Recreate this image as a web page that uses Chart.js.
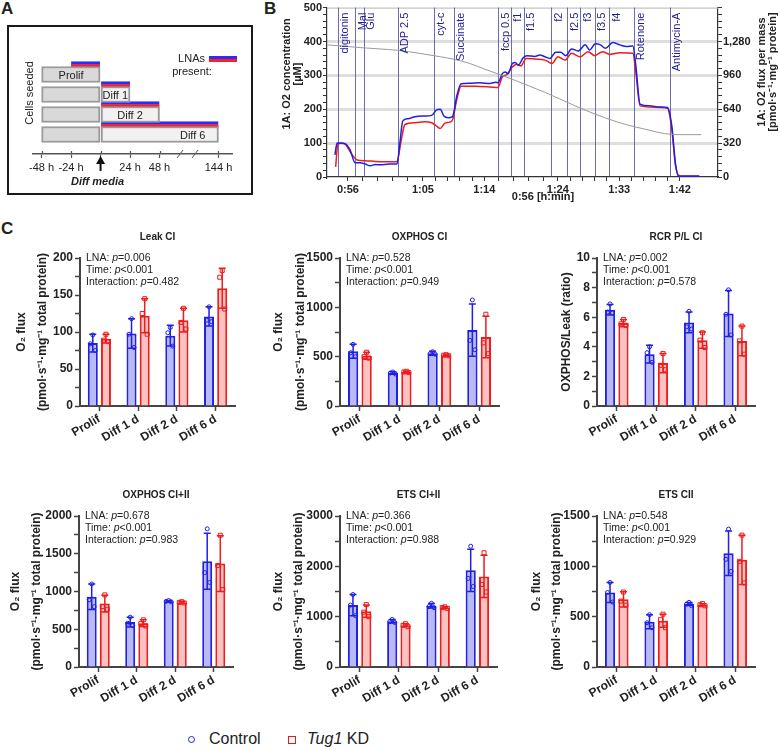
<!DOCTYPE html>
<html>
<head>
<meta charset="utf-8">
<script src="https://cdn.jsdelivr.net/npm/chart.js@4.4.1/dist/chart.umd.min.js"></script>
<style>
  body { margin: 0; background: #fff; width: 780px; height: 750px; position: relative; overflow: hidden;
         font-family: "Liberation Sans", Arial, sans-serif; color: #222; }
  canvas { position: absolute; }
  .panel { position: absolute; font-weight: bold; font-size: 17px; }
  .legend { position: absolute; top: 730px; font-size: 16px; }
</style>
</head>
<body>
<div class="panel" style="left:1px;top:-1px">A</div>
<div class="panel" style="left:264px;top:-1px">B</div>
<div class="panel" style="left:1px;top:219px">C</div>
<div style="position:absolute;left:7px;top:25px;width:242px;height:166px;border:2px solid #1a1a1a"></div>

<canvas id="chartA" width="255" height="200" style="left:0;top:0"></canvas>
<canvas id="chartB" width="525" height="205" style="left:255px;top:0"></canvas>
<canvas id="c1" width="250" height="231" style="left:0;top:220px"></canvas>
<canvas id="c2" width="255" height="231" style="left:262px;top:220px"></canvas>
<canvas id="c3" width="260" height="231" style="left:520px;top:220px"></canvas>
<canvas id="c4" width="250" height="234" style="left:0;top:478px"></canvas>
<canvas id="c5" width="255" height="234" style="left:262px;top:478px"></canvas>
<canvas id="c6" width="260" height="234" style="left:520px;top:478px"></canvas>

<div class="legend" style="left:188px">
  <span style="display:inline-block;width:5px;height:5px;border:1.5px solid #1f1fe6;border-radius:50%;vertical-align:middle;margin-right:14px"></span>Control
</div>
<div class="legend" style="left:288px">
  <span style="display:inline-block;width:6px;height:6px;border:1.5px solid #e61a1a;vertical-align:middle;margin-right:11px"></span><i>Tug1</i> KD
</div>

<script>
// ---------- panel A: experiment timeline ----------
const boxNames = ["Prolif", "Diff 1", "Diff 2", "Diff 6"];
const boxRows = [2, 4, 6, 8];
const seedStart = [-48, -48, -48, -48];
const diffEnd = [0, 24, 48, 96];          // 144 h drawn at 96 on the broken axis
const lnaRows = [1, 3, 5, 7];
const lnaStart = [-24, 0, 0, 0];
const lnaEnd = [0, 24, 48, 96];
const boxLabelAt = [-24, 12, 24, 75];
const hourTicks = [-48, -24, 0, 24, 48, 96];
const hourLabels = ["-48 h", "-24 h", "", "24 h", "48 h", "144 h"];

// ---------- panel B: oxygraph trace ----------
const ctrlTime = [54.2, 54.5, 55.6, 56.3, 57.0, 57.7, 58.4, 59.1, 59.8, 60.4, 61.8, 62.8, 63.2, 63.6, 64.3, 65.3,
  66.7, 67.6, 68.3, 68.8, 69.3, 69.9, 70.5, 71.1, 71.7, 72.9, 74.3, 75.7, 76.5, 76.8, 77.4, 77.8, 78.2, 78.8,
  79.2, 79.6, 80.3, 80.8, 81.9, 82.6, 83.3, 84.0, 84.8, 85.5, 86.2, 87.0, 87.9, 88.9, 89.5, 90.3, 91.0, 91.7,
  92.7, 93.7, 94.6, 95.5, 95.9, 96.5, 97.8, 99.2, 100.3, 100.9, 101.4, 101.8, 104.7];
const ctrlFlux = [208, 320, 314, 256, 134, 134, 122, 106, 118, 115, 122, 122, 320, 528, 550, 570,
  576, 582, 634, 640, 576, 560, 570, 768, 880, 886, 890, 883, 896, 890, 976, 992, 976, 1072,
  1082, 1056, 1126, 1146, 1139, 1152, 1136, 1120, 1178, 1178, 1146, 1210, 1190, 1248, 1200, 1258, 1248, 1216,
  1270, 1248, 1232, 1238, 1056, 688, 672, 662, 656, 480, 128, 10, 6];
const kdTime = [54.3, 54.6, 55.2, 55.7, 56.6, 57.3, 58.4, 59.8, 61.1, 62.8, 63.4, 63.9, 65.3, 66.7, 67.6, 68.3,
  68.8, 69.4, 70.1, 70.5, 71.1, 71.7, 73.6, 75.7, 76.8, 77.4, 78.0, 78.8, 79.4, 80.0, 80.7, 81.9, 83.3, 84.3,
  85.1, 86.1, 87.0, 88.2, 89.3, 90.2, 91.3, 92.3, 93.7, 95.5, 95.9, 96.5, 98.5, 100.3, 100.9, 101.4, 102.0, 104.7];
const kdFlux = [96, 304, 320, 304, 208, 160, 154, 147, 144, 147, 352, 496, 512, 522, 512, 480,
  458, 506, 518, 538, 736, 858, 858, 851, 845, 944, 966, 1040, 1066, 1050, 1120, 1114, 1104, 1072,
  1136, 1104, 1168, 1136, 1184, 1146, 1184, 1158, 1174, 1168, 992, 672, 659, 650, 448, 112, 10, 10];
const o2Time = [53.1, 54.9, 57.7, 60.4, 62.9, 65.9, 68.8, 70.8, 72.9, 75.0, 77.1, 79.2, 81.2, 83.3, 85.4, 87.5,
  89.5, 91.6, 93.7, 95.8, 97.8, 99.9, 102.0, 105.0];
const o2Conc = [390, 387, 382, 378, 374, 365, 355, 347, 335, 318, 302, 285, 268, 250, 230, 210,
  192, 175, 160, 148, 138, 128, 125, 125];
const eventNames = ["digitonin", "Mal", "Glu", "ADP 2.5", "cyt-c", "Succinate", "fccp 0.5", "f1", "f1.5", "f2",
  "f2.5", "f3", "f3.5", "f4", "Rotenone", "Antimycin-A"];
const eventTime = [54.6, 57.0, 58.2, 62.9, 67.9, 70.7, 76.8, 78.6, 80.4, 84.2, 86.4, 88.2, 90.2, 92.2, 95.6, 100.6];
const timeTickAt = [56, 66.4, 74.9, 85.1, 93.6, 102];
const timeTickLabels = ["0:56", "1:05", "1:14", "1:24", "1:33", "1:42"];

// ---------- panel C: respirometry bars ----------
const stages = ["Prolif", "Diff 1 d", "Diff 2 d", "Diff 6 d"];

const leakCtrlMean = [85, 98, 95, 121], leakCtrlSd = [12, 20, 14, 13];
const leakKdMean = [91, 122, 116, 159], leakKdSd = [6, 23, 16, 27];
const leakCtrlPts = [[96, 84, 75], [118, 97, 79], [106, 99, 81], [134, 116, 114]];
const leakKdPts = [[97, 89, 87], [145, 125, 97], [132, 113, 104], [183, 174, 131]];

const oxCtrlMean = [555, 335, 535, 770], oxCtrlSd = [70, 12, 20, 265];
const oxKdMean = [510, 345, 515, 700], oxKdSd = [35, 8, 8, 210];
const oxCtrlPts = [[625, 540, 500], [345, 335, 325], [550, 530, 525], [1075, 665, 570]];
const oxKdPts = [[545, 500, 485], [352, 345, 338], [520, 515, 510], [930, 640, 530]];

const rcrCtrlMean = [6.5, 3.5, 5.65, 6.25], rcrCtrlSd = [0.35, 0.6, 0.7, 1.55];
const rcrKdMean = [5.6, 2.9, 4.45, 4.4], rcrKdSd = [0.25, 0.65, 0.55, 1.0];
const rcrCtrlPts = [[6.9, 6.35, 6.3], [4.0, 3.6, 2.95], [6.4, 5.35, 5.2], [7.85, 6.2, 4.8]];
const rcrKdPts = [[5.85, 5.55, 5.45], [3.55, 2.75, 2.45], [4.95, 4.45, 3.95], [5.4, 4.4, 3.5]];

const ox2CtrlMean = [930, 595, 870, 1400], ox2CtrlSd = [170, 65, 12, 370];
const ox2KdMean = [840, 580, 855, 1370], ox2KdSd = [110, 45, 12, 370];
const ox2CtrlPts = [[1100, 890, 800], [660, 580, 550], [880, 870, 862], [1830, 1250, 1120]];
const ox2KdPts = [[955, 800, 765], [625, 575, 545], [865, 855, 848], [1745, 1345, 1025]];

const etsCtrlMean = [1230, 910, 1215, 1920], etsCtrlSd = [210, 35, 45, 420];
const etsKdMean = [1110, 830, 1180, 1800], etsKdSd = [120, 30, 15, 420];
const etsCtrlPts = [[1440, 1230, 1020], [945, 900, 885], [1265, 1200, 1180], [2400, 1760, 1600]];
const etsKdPts = [[1240, 1090, 1000], [860, 830, 800], [1195, 1180, 1165], [2270, 1640, 1490]];

const cii_CtrlMean = [740, 450, 625, 1130], cii_CtrlSd = [100, 70, 15, 220];
const cii_KdMean = [672, 460, 618, 1065], cii_KdSd = [75, 65, 10, 245];
const cii_CtrlPts = [[840, 740, 645], [520, 440, 390], [642, 625, 610], [1370, 1070, 950]];
const cii_KdPts = [[745, 655, 615], [525, 470, 390], [630, 618, 608], [1310, 1050, 835]];

const pLNA = ["0.006", "0.528", "0.002", "0.678", "0.366", "0.548"];
const pTime = ["<0.001", "<0.001", "<0.001", "<0.001", "<0.001", "<0.001"];
const pInter = ["0.482", "0.949", "0.578", "0.983", "0.988", "0.929"];

const FONT = '"Liberation Sans", Arial, sans-serif';
const BLUE = "#1f1fe6", RED = "#ee1c1c", AXIS = "#444";
Chart.defaults.font.family = FONT;
Chart.defaults.color = "#222";

function rotText(ctx, text, x, y, align) {
  ctx.save();
  ctx.translate(x, y);
  ctx.rotate(-Math.PI / 2);
  ctx.textAlign = align || "center";
  ctx.fillText(text, 0, 0);
  ctx.restore();
}

// ---------- panel A ----------
new Chart(document.getElementById("chartA"), {
  type: "bar",
  data: {
    datasets: [
      {
        data: boxRows.map((r, i) => ({ y: r, x: [seedStart[i], 0] })),
        backgroundColor: "#d9d9d9", borderColor: "#9a9a9a", borderWidth: 2, borderSkipped: false, barThickness: 16
      },
      {
        data: boxRows.slice(1).map((r, i) => ({ y: r, x: [0, diffEnd[i + 1]] })),
        backgroundColor: "#f1f1f1", borderColor: "#9a9a9a", borderWidth: 2, borderSkipped: false, barThickness: 16
      },
      {
        data: lnaRows.map((r, i) => ({ y: r, x: [lnaStart[i], lnaEnd[i]] })),
        backgroundColor: "#ff1f1f", borderColor: "#2b2bff",
        borderWidth: { top: 3, bottom: 0, left: 0, right: 0 }, borderSkipped: false, barThickness: 6
      }
    ]
  },
  options: {
    indexAxis: "y", responsive: false, animation: false,
    datasets: { bar: { grouped: false } },
    layout: { padding: { left: 33, right: 23, top: 49, bottom: 0 } },
    plugins: { legend: { display: false }, tooltip: { enabled: false } },
    scales: {
      y: { type: "linear", reverse: true, min: 0.5, max: 8.9, display: false },
      x: {
        type: "linear", min: -55, max: 107,
        afterBuildTicks(s) { s.ticks = hourTicks.map(v => ({ value: v })); },
        afterFit(s) { s.height = 46; },
        ticks: { autoSkip: false, maxRotation: 0, padding: 3, font: { size: 11 },
                 callback: v => hourLabels[hourTicks.indexOf(v)] },
        grid: { drawOnChartArea: false, tickLength: 4, color: "#555", tickWidth: 1.2 },
        border: { color: "#555", width: 1.5 }
      }
    }
  },
  plugins: [{
    id: "timelineText",
    afterDatasetsDraw(chart) {
      const { ctx, scales: { x, y }, chartArea } = chart;
      ctx.save();
      ctx.fillStyle = "#222";
      ctx.font = "11px " + FONT;
      ctx.textAlign = "center";
      ctx.textBaseline = "middle";
      boxNames.forEach((n, i) => ctx.fillText(n, x.getPixelForValue(boxLabelAt[i]), y.getPixelForValue(boxRows[i]) + 1));
      // tick marks above the axis as well
      ctx.strokeStyle = "#555"; ctx.lineWidth = 1.2;
      hourTicks.forEach(v => {
        const px = Math.round(x.getPixelForValue(v)) + 0.5;
        ctx.beginPath(); ctx.moveTo(px, chartArea.bottom); ctx.lineTo(px, chartArea.bottom - 3); ctx.stroke();
      });
      // broken-axis marks
      ctx.lineWidth = 1;
      [64.7, 76.9].forEach(v => {
        const px = x.getPixelForValue(v);
        ctx.beginPath(); ctx.moveTo(px - 3, chartArea.bottom + 4); ctx.lineTo(px + 3, chartArea.bottom - 4); ctx.stroke();
      });
      // diff media arrow
      const ax = x.getPixelForValue(0), b = chartArea.bottom;
      ctx.fillStyle = "#111"; ctx.strokeStyle = "#111"; ctx.lineWidth = 2;
      ctx.beginPath(); ctx.moveTo(ax, b + 17); ctx.lineTo(ax, b + 8); ctx.stroke();
      ctx.beginPath(); ctx.moveTo(ax - 4.5, b + 10); ctx.lineTo(ax + 4.5, b + 10); ctx.lineTo(ax, b + 2); ctx.closePath(); ctx.fill();
      ctx.fillStyle = "#222";
      ctx.font = "italic bold 11px " + FONT;
      ctx.fillText("Diff media", ax - 3, b + 28);
      ctx.font = "11px " + FONT;
      rotText(ctx, "Cells seeded", 30, 93);
      // LNA legend
      ctx.textAlign = "right";
      ctx.fillText("LNAs", 205, 59);
      ctx.textAlign = "center";
      ctx.fillText("present:", 192, 72);
      ctx.fillStyle = "#2b2bff"; ctx.fillRect(209, 56, 28, 3);
      ctx.fillStyle = "#ff1f1f"; ctx.fillRect(209, 59, 28, 3);
      ctx.restore();
    }
  }]
});

// ---------- panel B ----------
const zip = (xs, ys) => xs.map((v, i) => ({ x: v, y: ys[i] }));
new Chart(document.getElementById("chartB"), {
  type: "line",
  data: {
    datasets: [
      { data: zip(o2Time, o2Conc), yAxisID: "y", borderColor: "#9a9a9a", borderWidth: 1 },
      { data: zip(ctrlTime, ctrlFlux), yAxisID: "y1", borderColor: BLUE, borderWidth: 1.5 },
      { data: zip(kdTime, kdFlux), yAxisID: "y1", borderColor: RED, borderWidth: 1.5 }
    ]
  },
  options: {
    responsive: false, animation: false,
    elements: { point: { radius: 0 }, line: { cubicInterpolationMode: "monotone" } },
    layout: { padding: { left: 0, right: 0, top: 4, bottom: 0 } },
    plugins: { legend: { display: false }, tooltip: { enabled: false } },
    scales: {
      x: {
        type: "linear", min: 53.1, max: 107.3,
        afterBuildTicks(s) {
          const t = [];
          timeTickAt.forEach((v, i) => {
            t.push({ value: v });
            if (i < timeTickAt.length - 1) {
              const n = timeTickAt[i + 1];
              for (let k = 1; k < 5; k++) t.push({ value: v + (n - v) * k / 5 });
            }
          });
          s.ticks = t;
        },
        afterFit(s) { s.height = 28; },
        ticks: { autoSkip: false, maxRotation: 0, padding: 2, font: { size: 11, weight: "bold" },
                 callback: v => { const i = timeTickAt.indexOf(v); return i >= 0 ? timeTickLabels[i] : ""; } },
        grid: { drawOnChartArea: false, tickLength: 4, color: "#333" },
        border: { color: "#333", width: 1.2 }
      },
      y: {
        position: "left", min: 0, max: 500,
        afterFit(s) { s.width = 72; },
        ticks: { stepSize: 20, autoSkip: false, padding: 1, font: { size: 11, weight: "bold" },
                 callback: v => (v % 100 === 0 ? v : "") },
        grid: {
          color: c => (c.tick && c.tick.value % 100 === 0 && c.tick.value > 0 && c.tick.value < 500) ? "#dedede" : "rgba(0,0,0,0)",
          lineWidth: 3, tickColor: "#333", tickWidth: 1, tickLength: 4
        },
        border: { color: "#333", width: 1.2 }
      },
      y1: {
        position: "right", min: 0, max: 1600,
        afterFit(s) { s.width = 62; },
        ticks: { stepSize: 64, autoSkip: false, padding: 1, font: { size: 11, weight: "bold" },
                 callback: v => (v % 320 === 0 && v < 1600 ? v.toLocaleString("en-US") : "") },
        grid: { drawOnChartArea: false, tickLength: 4, color: "#333" },
        border: { color: "#333", width: 1.2 }
      }
    }
  },
  plugins: [{
    id: "events",
    beforeDatasetsDraw(chart) {
      const { ctx, scales: { x }, chartArea: a } = chart;
      ctx.save();
      ctx.strokeStyle = "#b5b5b5"; ctx.lineWidth = 1;
      ctx.beginPath(); ctx.moveTo(a.left, a.top + 0.5); ctx.lineTo(a.right, a.top + 0.5); ctx.stroke();
      ctx.strokeStyle = "rgba(60,60,150,0.75)";
      eventTime.forEach(t => {
        const px = Math.round(x.getPixelForValue(t)) + 0.5;
        ctx.beginPath(); ctx.moveTo(px, a.top); ctx.lineTo(px, a.bottom); ctx.stroke();
      });
      ctx.restore();
    },
    afterDatasetsDraw(chart) {
      const { ctx, scales: { x }, chartArea: a } = chart;
      ctx.save();
      ctx.fillStyle = "#1e1e8c";
      ctx.font = "11px " + FONT;
      ctx.textBaseline = "top";
      eventTime.forEach((t, i) => rotText(ctx, eventNames[i], x.getPixelForValue(t) + 2, a.top + 5, "right"));
      ctx.fillStyle = "#222";
      ctx.font = "bold 11px " + FONT;
      ctx.textBaseline = "middle";
      rotText(ctx, "1A: O2 concentration", 32, 74);
      rotText(ctx, "[µM]", 43, 74);
      rotText(ctx, "1A: O2 flux per mass", 507, 72);
      rotText(ctx, "[pmol·s⁻¹·mg⁻¹ protein]", 518, 72);
      ctx.textAlign = "center";
      ctx.fillText("0:56 [h:min]", 288, 197);
      ctx.restore();
    }
  }]
});

// ---------- panel C ----------
function drawRich(ctx, parts, x, y) {
  parts.forEach(([txt, it]) => {
    ctx.font = (it ? "italic " : "") + "10.5px " + FONT;
    ctx.fillText(txt, x, y);
    x += ctx.measureText(txt).width;
  });
}

function barChart(id, k, title, ctrlMean, ctrlSd, kdMean, kdSd, ctrlPts, kdPts, yMax, step, major, axisW, padRight, yTitles, titleDx) {
  const means = [ctrlMean, kdMean], sds = [ctrlSd, kdSd], pts = [ctrlPts, kdPts], cols = [BLUE, RED];
  const jit = [0, -2.5, 2.5];
  new Chart(document.getElementById(id), {
    type: "bar",
    data: {
      labels: stages,
      datasets: [
        { data: ctrlMean, backgroundColor: "#b9b9f5", borderColor: BLUE, borderWidth: 2, categoryPercentage: 0.68, barPercentage: 0.76 },
        { data: kdMean, backgroundColor: "#fbc2c2", borderColor: RED, borderWidth: 2, categoryPercentage: 0.68, barPercentage: 0.76 }
      ]
    },
    options: {
      responsive: false, animation: false,
      layout: { padding: { left: 0, top: 38, right: padRight, bottom: 0 } },
      plugins: { legend: { display: false }, tooltip: { enabled: false } },
      scales: {
        x: {
          afterFit(s) { s.height = 45; },
          ticks: { font: { size: 12, weight: "bold" }, color: "#222", minRotation: 30, maxRotation: 30, padding: 1 },
          grid: { drawOnChartArea: false, offset: false, tickLength: 5, color: AXIS, tickWidth: 1.5 },
          border: { color: AXIS, width: 2 }
        },
        y: {
          min: 0, max: yMax,
          afterFit(s) { s.width = axisW; },
          ticks: { stepSize: step, autoSkip: false, padding: 2, font: { size: 12, weight: "bold" }, color: "#222",
                   callback: v => (Math.abs(v / major - Math.round(v / major)) < 1e-6 ? v : "") },
          grid: { drawOnChartArea: false, tickLength: 5, color: AXIS, tickWidth: 1.5 },
          border: { color: AXIS, width: 2 }
        }
      }
    },
    plugins: [{
      id: "extras" + id,
      afterDatasetsDraw(chart) {
        const { ctx, chartArea: a, scales: { y } } = chart;
        ctx.save();
        [0, 1].forEach(d => {
          chart.getDatasetMeta(d).data.forEach((bar, i) => {
            ctx.strokeStyle = cols[d];
            ctx.lineWidth = 1;
            pts[d][i].forEach((v, j) => {
              const px = bar.x + jit[j], py = y.getPixelForValue(v);
              ctx.beginPath();
              if (d === 0) ctx.arc(px, py, 2, 0, Math.PI * 2);
              else ctx.rect(px - 2, py - 2, 4, 4);
              ctx.stroke();
            });
            const top = y.getPixelForValue(means[d][i] + sds[d][i]);
            const bot = y.getPixelForValue(means[d][i] - sds[d][i]);
            ctx.lineWidth = 1.5;
            ctx.beginPath();
            ctx.moveTo(bar.x, top); ctx.lineTo(bar.x, bot);
            ctx.moveTo(bar.x - 3.5, top); ctx.lineTo(bar.x + 3.5, top);
            ctx.moveTo(bar.x - 3.5, bot); ctx.lineTo(bar.x + 3.5, bot);
            ctx.stroke();
          });
        });
        ctx.fillStyle = "#222";
        ctx.textBaseline = "middle";
        ctx.textAlign = "left";
        const sx = a.left + 6;
        drawRich(ctx, [["LNA: ", 0], ["p", 1], ["=" + pLNA[k], 0]], sx, a.top);
        drawRich(ctx, [["Time: ", 0], ["p", 1], [pTime[k], 0]], sx, a.top + 12);
        drawRich(ctx, [["Interaction: ", 0], ["p", 1], ["=" + pInter[k], 0]], sx, a.top + 24);
        ctx.textAlign = "center";
        ctx.font = "bold 10px " + FONT;
        ctx.fillText(title, (a.left + a.right) / 2, a.top - 21);
        ctx.font = "bold 12px " + FONT;
        const cy = (a.top + a.bottom) / 2;
        yTitles.forEach((t, j) => rotText(ctx, t, a.left + titleDx[j], cy));
        ctx.restore();
      }
    }]
  });
}

const fluxTitle = ["O₂ flux", "(pmol·s⁻¹·mg⁻¹ total protein)"];
barChart("c1", 0, "Leak CI", leakCtrlMean, leakCtrlSd, leakKdMean, leakKdSd, leakCtrlPts, leakKdPts, 200, 25, 50, 80, 15, fluxTitle, [-58, -37]);
barChart("c2", 1, "OXPHOS CI", oxCtrlMean, oxCtrlSd, oxKdMean, oxKdSd, oxCtrlPts, oxKdPts, 1500, 250, 500, 78, 18, fluxTitle, [-61, -39]);
barChart("c3", 2, "RCR P/L CI", rcrCtrlMean, rcrCtrlSd, rcrKdMean, rcrKdSd, rcrCtrlPts, rcrKdPts, 10, 1, 2, 77, 25, ["OXPHOS/Leak (ratio)"], [-30]);
barChart("c4", 3, "OXPHOS CI+II", ox2CtrlMean, ox2CtrlSd, ox2KdMean, ox2KdSd, ox2CtrlPts, ox2KdPts, 2000, 250, 500, 79, 17, fluxTitle, [-63, -42]);
barChart("c5", 4, "ETS CI+II", etsCtrlMean, etsCtrlSd, etsKdMean, etsKdSd, etsCtrlPts, etsKdPts, 3000, 500, 1000, 78, 20, fluxTitle, [-61, -41]);
barChart("c6", 5, "ETS CII", cii_CtrlMean, cii_CtrlSd, cii_KdMean, cii_KdSd, cii_CtrlPts, cii_KdPts, 1500, 250, 500, 77, 25, fluxTitle, [-60, -40]);
</script>
</body>
</html>
